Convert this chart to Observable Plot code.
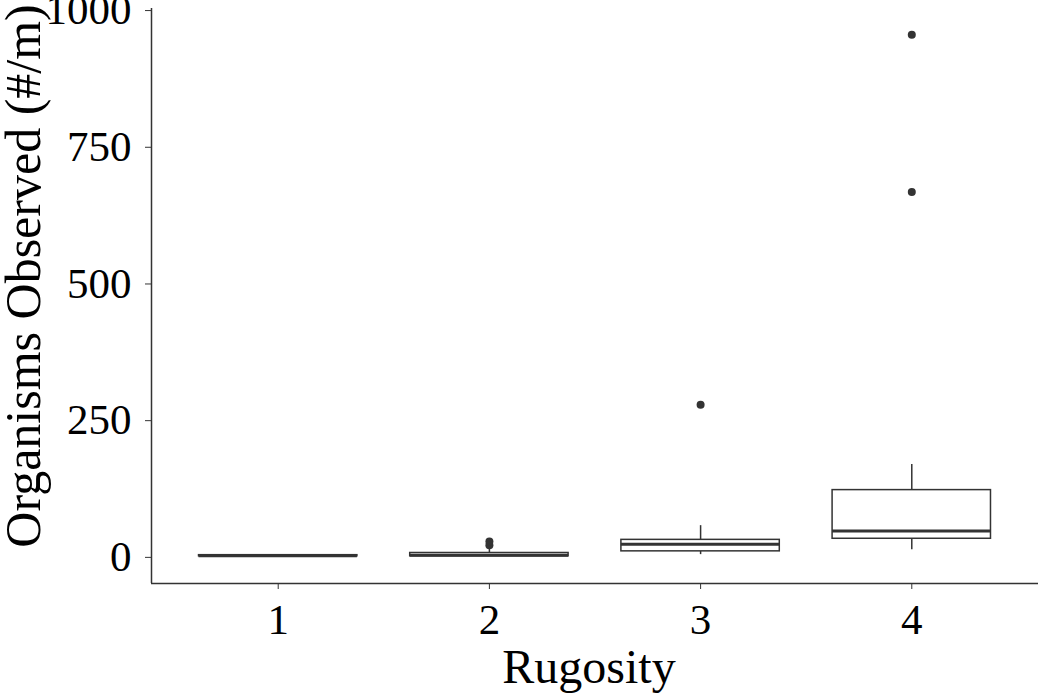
<!DOCTYPE html>
<html>
<head>
<meta charset="utf-8">
<script src="https://cdn.jsdelivr.net/npm/d3@7"></script>
<script src="https://cdn.jsdelivr.net/npm/@observablehq/plot@0.6"></script>
<style>
  html, body { margin: 0; padding: 0; background: #fff; }
</style>
</head>
<body>
<div id="chart"></div>
<script>
// Box summaries
const rugosity    = [1, 2, 3, 4];
const whiskerLow  = [2, 2, 5, 14];
const q1          = [2, 2, 11, 34];
const median      = [3, 4, 24, 48];
const q3          = [4, 8, 32, 123];
const whiskerHigh = [5, 16, 58, 170];
// Outliers
const outlierRugosity = [2, 2, 3, 4, 4];
const outlierValues   = [22, 29, 279, 668, 956];
// Tick labels and titles
const xTicks = [1, 2, 3, 4];
const yTicks = [0, 250, 500, 750, 1000];
const xTitle = "Rugosity";
const yTitle = "Organisms Observed (#/m)";

const boxes = rugosity.map((r, i) => ({
  r, lo: whiskerLow[i], q1: q1[i], med: median[i], q3: q3[i], hi: whiskerHigh[i]
}));
const outliers = outlierRugosity.map((r, i) => ({r, v: outlierValues[i]}));

const half = 0.375;
const yMin = -47.8, yMax = 1003.8;
const ink = "#333";

const plot = Plot.plot({
  width: 1045,
  height: 693,
  marginLeft: 151,
  marginRight: 7,
  marginTop: 8,
  marginBottom: 110,
  style: {fontFamily: "'Liberation Serif', 'Times New Roman', serif", fontSize: "43px", color: "#000", background: "#fff"},
  x: {domain: [0.4, 4.6]},
  y: {domain: [yMin, yMax]},
  marks: [
    Plot.ruleX(boxes, {x: "r", y1: "lo", y2: "q1", stroke: ink, strokeWidth: 1.5}),
    Plot.ruleX(boxes, {x: "r", y1: "q3", y2: "hi", stroke: ink, strokeWidth: 1.5}),
    Plot.rect(boxes, {x1: d => d.r - half, x2: d => d.r + half, y1: "q1", y2: "q3", fill: "#fff", stroke: ink, strokeWidth: 1.5}),
    Plot.ruleY(boxes, {x1: d => d.r - half, x2: d => d.r + half, y: "med", stroke: ink, strokeWidth: 3}),
    Plot.dot(outliers, {x: "r", y: "v", r: 4, fill: ink, stroke: "none"}),
    Plot.ruleX([0.4], {stroke: ink, strokeWidth: 1.5}),
    Plot.ruleY([yMin], {stroke: ink, strokeWidth: 1.5}),
    Plot.axisX({ticks: xTicks, tickFormat: d => String(d), tickSize: 6, tickPadding: 14, fontSize: 43,
      stroke: ink, label: null}),
    Plot.axisY({ticks: yTicks, tickFormat: d => String(d), tickSize: 6, tickPadding: 14, fontSize: 43,
      stroke: ink, label: null}),
    Plot.text([xTitle], {text: d => d, frameAnchor: "bottom", lineAnchor: "bottom", textAnchor: "middle",
      dx: -6, dy: 99, fontSize: 48, fill: "#000"}),
    Plot.text([yTitle], {text: d => d, frameAnchor: "left", lineAnchor: "bottom", textAnchor: "middle",
      rotate: -90, dx: -112, dy: -20, fontSize: 50, fill: "#000"})
  ]
});
document.getElementById("chart").appendChild(plot);
</script>
</body>
</html>
